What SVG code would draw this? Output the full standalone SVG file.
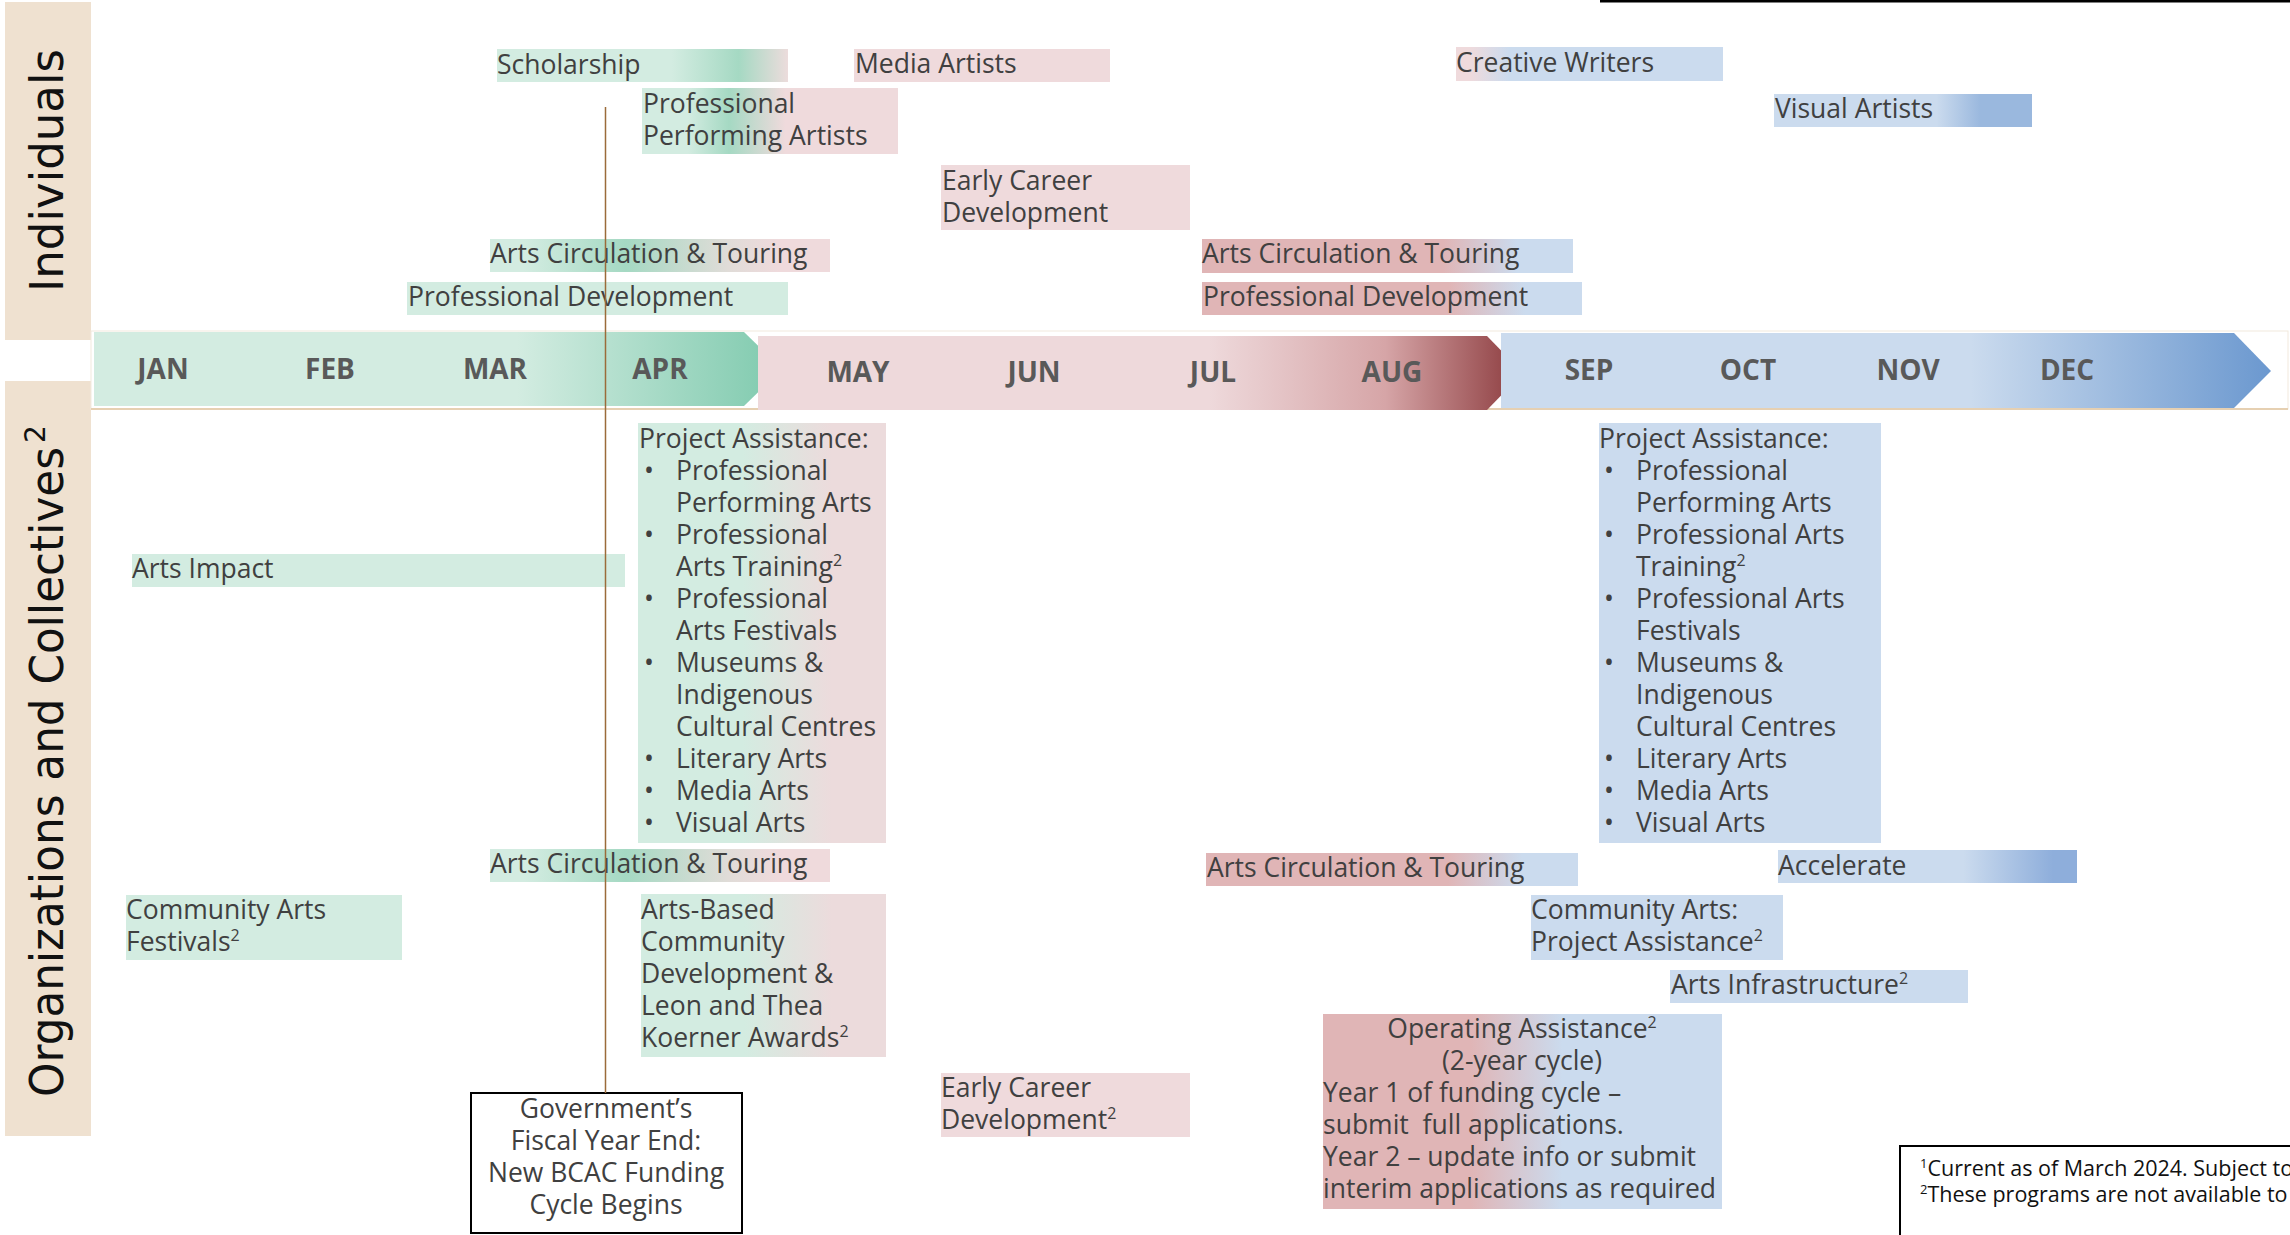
<svg xmlns="http://www.w3.org/2000/svg" width="2290" height="1235" viewBox="0 0 2290 1235">
<style>
.t{font-family:"Open Sans","Noto Sans","Liberation Sans",sans-serif;font-size:26.5px;fill:#404040}
.m{font-family:"Open Sans","Noto Sans","Liberation Sans",sans-serif;font-size:28px;font-weight:bold;fill:#595959;text-anchor:middle}
.c{text-anchor:middle}
.band{fill:#efe1d0}
.side{font-family:"DejaVu Sans","Liberation Sans",sans-serif;font-size:46px;fill:#111}
.fn{font-family:"Open Sans","Noto Sans","Liberation Sans",sans-serif;font-size:21.5px;fill:#111}
.sup{font-size:16px}
.g1{fill:#d3ece1}.p1{fill:#efdadc}.b1{fill:#cbdbee}
</style>
<defs>
<linearGradient id="gScholar"><stop offset="0" stop-color="#d3ece1"/><stop offset="0.6" stop-color="#d3ece1"/><stop offset="0.83" stop-color="#a5d9c3"/><stop offset="1" stop-color="#ecdcdc"/></linearGradient>
<linearGradient id="gPPA"><stop offset="0" stop-color="#d3ece1"/><stop offset="0.18" stop-color="#d3ece1"/><stop offset="0.34" stop-color="#a5d9c3"/><stop offset="0.56" stop-color="#efdadc"/><stop offset="1" stop-color="#efdadc"/></linearGradient>
<linearGradient id="gACT"><stop offset="0" stop-color="#d3ece1"/><stop offset="0.1" stop-color="#d3ece1"/><stop offset="0.4" stop-color="#a5d9c3"/><stop offset="0.7" stop-color="#e0dcd8"/><stop offset="0.85" stop-color="#efdadc"/><stop offset="1" stop-color="#efdadc"/></linearGradient>
<linearGradient id="gGP"><stop offset="0" stop-color="#d3ece1"/><stop offset="0.42" stop-color="#d3ece1"/><stop offset="0.78" stop-color="#ecdbdc"/><stop offset="1" stop-color="#ecdbdc"/></linearGradient>
<linearGradient id="gPB"><stop offset="0" stop-color="#e0b5b6"/><stop offset="0.65" stop-color="#e0b5b6"/><stop offset="0.85" stop-color="#cbdbee"/><stop offset="1" stop-color="#cbdbee"/></linearGradient>
<linearGradient id="gOA"><stop offset="0" stop-color="#e0b5b6"/><stop offset="0.37" stop-color="#e0b5b6"/><stop offset="0.6" stop-color="#cbdbee"/><stop offset="1" stop-color="#cbdbee"/></linearGradient>
<linearGradient id="gCW"><stop offset="0" stop-color="#efdadc"/><stop offset="0.05" stop-color="#efdadc"/><stop offset="0.2" stop-color="#cbdbee"/><stop offset="1" stop-color="#cbdbee"/></linearGradient>
<linearGradient id="gVA"><stop offset="0" stop-color="#cbdbee"/><stop offset="0.63" stop-color="#cbdbee"/><stop offset="0.8" stop-color="#9ab8de"/><stop offset="1" stop-color="#9ab8de"/></linearGradient>
<linearGradient id="gAcc"><stop offset="0" stop-color="#cbdbee"/><stop offset="0.62" stop-color="#cbdbee"/><stop offset="0.92" stop-color="#8eaedb"/><stop offset="1" stop-color="#8eaedb"/></linearGradient>
<linearGradient id="aG" gradientUnits="userSpaceOnUse" x1="94" y1="0" x2="782" y2="0"><stop offset="0" stop-color="#d3ece1"/><stop offset="0.615" stop-color="#d3ece1"/><stop offset="1" stop-color="#7fcaae"/></linearGradient>
<linearGradient id="aP" gradientUnits="userSpaceOnUse" x1="758" y1="0" x2="1523" y2="0"><stop offset="0" stop-color="#eed9db"/><stop offset="0.59" stop-color="#eed9db"/><stop offset="0.82" stop-color="#d6a5a7"/><stop offset="1" stop-color="#8b3a3d"/></linearGradient>
<linearGradient id="aB" gradientUnits="userSpaceOnUse" x1="1501" y1="0" x2="2271" y2="0"><stop offset="0" stop-color="#cbdbee"/><stop offset="0.61" stop-color="#cbdbee"/><stop offset="1" stop-color="#6b98cf"/></linearGradient>
</defs>
<rect width="2290" height="1235" fill="#fff"/>
<rect x="1600" y="0" width="690" height="2.5" fill="#000"/>

<g id="band-individuals"><rect class="band" x="5" y="2" width="86" height="338"/>
<text class="side" transform="translate(63,292) rotate(-90)" textLength="243" lengthAdjust="spacingAndGlyphs">Individuals</text></g>
<g id="band-organizations"><rect class="band" x="5" y="381" width="86" height="755"/>
<text class="side" transform="translate(63,1097) rotate(-90)" textLength="650" lengthAdjust="spacingAndGlyphs">Organizations and Collectives</text>
<text class="side" style="font-size:28px" transform="translate(45,443) rotate(-90)">2</text></g>

<g id="timeline">
<rect x="91" y="331" width="2197" height="78" fill="none" stroke="#f2e9dd" stroke-width="1"/>
<line x1="91" y1="409" x2="2288" y2="409" stroke="#e6d0b2" stroke-width="2"/>
<path d="M94,332 H744 L782,369 L744,406 H94 Z" fill="url(#aG)"/>
<path d="M758,336 H1487 L1523,373 L1487,410 H758 Z" fill="url(#aP)"/>
<path d="M1501,333 H2234 L2271,371 L2234,408 H1501 Z" fill="url(#aB)"/>
<text class="m" x="163" y="379">JAN</text><text class="m" x="330" y="379">FEB</text><text class="m" x="495" y="379">MAR</text><text class="m" x="660" y="379">APR</text>
<text class="m" x="858" y="382">MAY</text><text class="m" x="1034" y="382">JUN</text><text class="m" x="1213" y="382">JUL</text><text class="m" x="1392" y="382">AUG</text>
<text class="m" x="1589" y="380">SEP</text><text class="m" x="1748" y="380">OCT</text><text class="m" x="1908" y="380">NOV</text><text class="m" x="2067" y="380">DEC</text>
</g>

<g id="ind-scholarship"><rect x="497" y="49" width="291" height="33" fill="url(#gScholar)"/><text class="t" x="497" y="74">Scholarship</text></g>
<g id="ind-media"><rect x="854" y="49" width="256" height="33" class="p1"/><text class="t" x="855" y="73">Media Artists</text></g>
<g id="ind-creative"><rect x="1456" y="47" width="267" height="34" fill="url(#gCW)"/><text class="t" x="1456" y="72">Creative Writers</text></g>
<g id="ind-visual"><rect x="1774" y="94" width="258" height="33" fill="url(#gVA)"/><text class="t" x="1775" y="118">Visual Artists</text></g>
<g id="ind-ppa"><rect x="642" y="88" width="256" height="66" fill="url(#gPPA)"/><text class="t" x="643" y="113">Professional</text><text class="t" x="643" y="145">Performing Artists</text></g>
<g id="ind-early"><rect x="941" y="165" width="249" height="65" class="p1"/><text class="t" x="942" y="190">Early Career</text><text class="t" x="942" y="222">Development</text></g>
<g id="ind-act-1"><rect x="490" y="239" width="340" height="33" fill="url(#gACT)"/><text class="t" x="490" y="263">Arts Circulation &amp; Touring</text></g>
<g id="ind-act-2"><rect x="1202" y="239" width="371" height="34" fill="url(#gPB)"/><text class="t" x="1202" y="263">Arts Circulation &amp; Touring</text></g>
<g id="ind-pd-1"><rect x="407" y="282" width="381" height="33" class="g1"/><text class="t" x="408" y="306">Professional Development</text></g>
<g id="ind-pd-2"><rect x="1202" y="282" width="380" height="33" fill="url(#gPB)"/><text class="t" x="1203" y="306">Professional Development</text></g>

<g id="org-impact"><rect x="132" y="554" width="493" height="33" class="g1"/><text class="t" x="132" y="578">Arts Impact</text></g>
<g id="org-pa-1"><rect x="638" y="423" width="248" height="420" fill="url(#gGP)"/>
<text class="t" x="639" y="448">Project Assistance:</text>
<text class="t" x="644" y="480">•</text><text class="t" x="676" y="480">Professional</text>
<text class="t" x="676" y="512">Performing Arts</text>
<text class="t" x="644" y="544">•</text><text class="t" x="676" y="544">Professional</text>
<text class="t" x="676" y="576">Arts Training<tspan class="sup" dy="-10">2</tspan></text>
<text class="t" x="644" y="608">•</text><text class="t" x="676" y="608">Professional</text>
<text class="t" x="676" y="640">Arts Festivals</text>
<text class="t" x="644" y="672">•</text><text class="t" x="676" y="672">Museums &amp;</text>
<text class="t" x="676" y="704">Indigenous</text>
<text class="t" x="676" y="736">Cultural Centres</text>
<text class="t" x="644" y="768">•</text><text class="t" x="676" y="768">Literary Arts</text>
<text class="t" x="644" y="800">•</text><text class="t" x="676" y="800">Media Arts</text>
<text class="t" x="644" y="832">•</text><text class="t" x="676" y="832">Visual Arts</text></g>
<g id="org-pa-2"><rect x="1599" y="423" width="282" height="420" class="b1"/>
<text class="t" x="1599" y="448">Project Assistance:</text>
<text class="t" x="1604" y="480">•</text><text class="t" x="1636" y="480">Professional</text>
<text class="t" x="1636" y="512">Performing Arts</text>
<text class="t" x="1604" y="544">•</text><text class="t" x="1636" y="544">Professional Arts</text>
<text class="t" x="1636" y="576">Training<tspan class="sup" dy="-10">2</tspan></text>
<text class="t" x="1604" y="608">•</text><text class="t" x="1636" y="608">Professional Arts</text>
<text class="t" x="1636" y="640">Festivals</text>
<text class="t" x="1604" y="672">•</text><text class="t" x="1636" y="672">Museums &amp;</text>
<text class="t" x="1636" y="704">Indigenous</text>
<text class="t" x="1636" y="736">Cultural Centres</text>
<text class="t" x="1604" y="768">•</text><text class="t" x="1636" y="768">Literary Arts</text>
<text class="t" x="1604" y="800">•</text><text class="t" x="1636" y="800">Media Arts</text>
<text class="t" x="1604" y="832">•</text><text class="t" x="1636" y="832">Visual Arts</text></g>
<g id="org-act-1"><rect x="490" y="849" width="340" height="33" fill="url(#gACT)"/><text class="t" x="490" y="873">Arts Circulation &amp; Touring</text></g>
<g id="org-act-2"><rect x="1206" y="853" width="372" height="33" fill="url(#gPB)"/><text class="t" x="1207" y="877">Arts Circulation &amp; Touring</text></g>
<g id="org-accelerate"><rect x="1778" y="850" width="299" height="33" fill="url(#gAcc)"/><text class="t" x="1778" y="875">Accelerate</text></g>
<g id="org-caf"><rect x="126" y="895" width="276" height="65" class="g1"/><text class="t" x="126" y="919">Community Arts</text><text class="t" x="126" y="951">Festivals<tspan class="sup" dy="-10">2</tspan></text></g>
<g id="org-abcd"><rect x="641" y="894" width="245" height="163" fill="url(#gGP)"/>
<text class="t" x="641" y="919">Arts-Based</text><text class="t" x="641" y="951">Community</text><text class="t" x="641" y="983">Development &amp;</text><text class="t" x="641" y="1015">Leon and Thea</text><text class="t" x="641" y="1047">Koerner Awards<tspan class="sup" dy="-10">2</tspan></text></g>
<g id="org-early"><rect x="941" y="1073" width="249" height="64" class="p1"/><text class="t" x="941" y="1097">Early Career</text><text class="t" x="941" y="1129">Development<tspan class="sup" dy="-10">2</tspan></text></g>
<g id="org-capa"><rect x="1531" y="895" width="252" height="65" class="b1"/><text class="t" x="1531" y="919">Community Arts:</text><text class="t" x="1531" y="951">Project Assistance<tspan class="sup" dy="-10">2</tspan></text></g>
<g id="org-infra"><rect x="1670" y="970" width="298" height="33" class="b1"/><text class="t" x="1671" y="994">Arts Infrastructure<tspan class="sup" dy="-10">2</tspan></text></g>
<g id="org-operating"><rect x="1323" y="1014" width="399" height="195" fill="url(#gOA)"/>
<text class="t c" x="1522" y="1038">Operating Assistance<tspan class="sup" dy="-10">2</tspan></text>
<text class="t c" x="1522" y="1070">(2-year cycle)</text>
<text class="t" x="1323" y="1102">Year 1 of funding cycle –</text>
<text class="t" x="1323" y="1134" xml:space="preserve">submit  full applications.</text>
<text class="t" x="1323" y="1166">Year 2 – update info or submit</text>
<text class="t" x="1323" y="1198">interim applications as required</text></g>

<g id="fiscal-year-end"><rect x="471" y="1093" width="271" height="140" fill="#fff" stroke="#000" stroke-width="2"/>
<text class="t c" x="606" y="1118">Government’s</text><text class="t c" x="606" y="1150">Fiscal Year End:</text><text class="t c" x="606" y="1182">New BCAC Funding</text><text class="t c" x="606" y="1214">Cycle Begins</text></g>

<g id="footnote"><rect x="1900" y="1146" width="400" height="100" fill="#fff" stroke="#000" stroke-width="2"/>
<text class="fn" x="1920" y="1176"><tspan font-size="13" dy="-8">1</tspan><tspan dy="8">Current as of March 2024. Subject to</tspan></text>
<text class="fn" x="1920" y="1202"><tspan font-size="13" dy="-8">2</tspan><tspan dy="8">These programs are not available to</tspan></text></g>

<g id="connectors"><line x1="605.5" y1="107" x2="605.5" y2="1093" stroke="#9b6b3a" stroke-width="1.5"/></g>
</svg>
